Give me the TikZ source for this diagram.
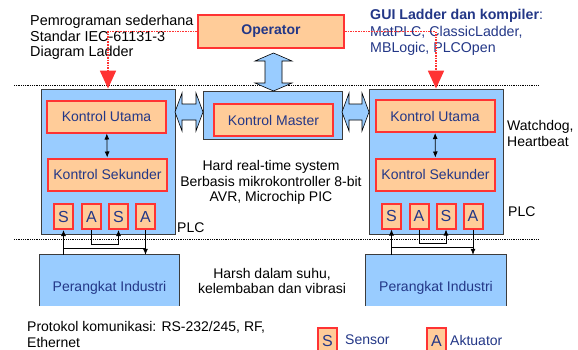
\documentclass[tikz,border=0pt]{standalone}
\usepackage{fontspec}
\setmainfont{Liberation Sans}
\usetikzlibrary{arrows.meta,calc}
\definecolor{skyfill}{RGB}{153,204,255}
\definecolor{peach}{RGB}{255,204,153}
\definecolor{redline}{RGB}{255,51,51}
\definecolor{navy}{RGB}{35,55,135}
\definecolor{edge}{RGB}{60,60,60}
\begin{document}
\begin{tikzpicture}[x=1pt,y=-1pt,
  every node/.style={font=\fontsize{14}{16}\selectfont},
  panel/.style={draw=edge, line width=0.8pt, fill=skyfill, inner sep=0pt},
  ctrl/.style={draw=redline, line width=2pt, fill=peach, text=navy, inner sep=0pt},
  unitbox/.style={ctrl, minimum width=119pt, minimum height=32pt},
  io/.style={ctrl, minimum width=19pt, minimum height=25pt, font=\fontsize{16}{18}\selectfont},
  note/.style={align=left, anchor=west, inner sep=0pt, font=\fontsize{14}{15.5}\selectfont},
  midnote/.style={align=center, inner sep=0pt, font=\fontsize{14}{15.5}\selectfont},
  sepline/.style={draw=black, line width=0.6pt, dash pattern=on 0.8pt off 1pt},
  blockarrow/.style={draw=black, line width=0.6pt, fill=skyfill},
  wire/.style={draw=black, line width=0.8pt},
  wtip/.style={-{Latex[length=6pt,width=5pt]}},
  reddot/.style={draw=redline, line width=1.8pt, dash pattern=on 1.6pt off 1pt,
    -{Triangle[width=16pt,length=18pt]}}
]
\fill[white] (0,0) rectangle (578,349);
\useasboundingbox (0,0) rectangle (578,349);

% dotted separators between the layers
\draw[sepline] (14,85) -- (538,85);
\draw[sepline] (14,239) -- (538,239);

% operator
\node[ctrl, minimum width=146pt, minimum height=33pt,
  font=\fontsize{14}{16}\selectfont\bfseries] (op) at (271,31.5) {Operator};

% the two PLC units
\node[panel, minimum width=134pt, minimum height=145pt] (plcL) at (108,161.5) {};
\node[panel, minimum width=134pt, minimum height=145pt] (plcR) at (436,161.5) {};

\node[unitbox] (kuL) at (106.5,116.5) {Kontrol Utama};
\node[unitbox] (ksL) at (107.5,174.5) {Kontrol Sekunder};
\node[unitbox] (kuR) at (435,116) {Kontrol Utama};
\node[unitbox] (ksR) at (435.5,174.5) {Kontrol Sekunder};

\node[io] (sL1) at (63.5,216.5) {S};
\node[io] (aL1) at (91.5,216.5) {A};
\node[io] (sL2) at (118.5,216.5) {S};
\node[io] (aL2) at (145.5,216.5) {A};
\node[io] (sR1) at (391.5,216) {S};
\node[io] (aR1) at (419,216) {A};
\node[io] (sR2) at (446,216) {S};
\node[io] (aR2) at (473,216) {A};

% master controller
\node[panel, minimum width=139pt, minimum height=48pt] (master) at (272.5,115) {};
\node[ctrl, minimum width=119pt, minimum height=32pt] (km) at (273.5,120) {Kontrol Master};

% block arrows
\filldraw[blockarrow] (273.5,53) -- (292,61) -- (282,61) -- (282,83) -- (292,83)
  -- (273.5,91) -- (255,83) -- (265,83) -- (265,61) -- (255,61) -- cycle;
\filldraw[blockarrow] (175,112) -- (182,93) -- (182,104) -- (196,104) -- (196,93)
  -- (203,112) -- (196,131) -- (196,120) -- (182,120) -- (182,131) -- cycle;
\filldraw[blockarrow] (342,112) -- (349,93) -- (349,104) -- (362,104) -- (362,93)
  -- (369,112) -- (362,131) -- (362,120) -- (349,120) -- (349,131) -- cycle;

% field devices
\node[fill=skyfill, minimum width=139pt, minimum height=51pt, inner sep=0pt] (piL) at (109.5,280.5) {};
\node[fill=skyfill, minimum width=140pt, minimum height=51pt, inner sep=0pt] (piR) at (436,280.5) {};
\draw[edge, line width=0.8pt] (piL.south west) -- (piL.north west) -- (piL.north east) -- (piL.south east);
\draw[edge, line width=0.8pt] (piR.south west) -- (piR.north west) -- (piR.north east) -- (piR.south east);
\node[text=navy, inner sep=0pt] (piLt) at (109.5,288) {Perangkat Industri};
\node[text=navy, inner sep=0pt] (piRt) at (436,288) {Perangkat Industri};

% links inside each PLC
\draw[wire, {Latex[length=6pt,width=5pt]}-{Latex[length=6pt,width=5pt]}] (kuL) -- (ksL);
\draw[wire, {Latex[length=6pt,width=5pt]}-{Latex[length=6pt,width=5pt]}] (kuR) -- (ksR);

% sensor / actuator wiring, left
\draw[wire, wtip] (sL1.south |- piL.north) -- (sL1.south);
\draw[wire, wtip] (aL2.south) -- (aL2.south |- piL.north);
\draw[wire] ($(sL1.south)+(0,18)$) -- ($(aL2.south)+(0,18)$);
\draw[wire, wtip] (aL1.south) -- ++(0,14) -| (sL2.south);
% sensor / actuator wiring, right
\draw[wire, wtip] (sR1.south |- piR.north) -- (sR1.south);
\draw[wire, wtip] (aR2.south) -- (aR2.south |- piR.north);
\draw[wire] ($(sR1.south)+(0,18)$) -- ($(aR2.south)+(0,18)$);
\draw[wire, wtip] (aR1.south) -- ++(0,14) -| (sR2.south);

% notes
\node[note, font=\fontsize{14.4}{15.5}\selectfont] (prog) at (30,37.5)
  {Pemrograman sederhana\\Standar IEC-61131-3\\Diagram Ladder};
\node[note, text=navy, font=\fontsize{14.2}{16.5}\selectfont] (gui) at (370,32.5)
  {\textbf{GUI Ladder dan kompiler}:\\MatPLC, ClassicLadder,\\MBLogic, PLCOpen};
\node[midnote] (rt) at (271,182.5) {Hard real-time system\\Berbasis mikrokontroller 8-bit\\AVR, Microchip PIC};
\node[note] (wd) at (507,133.5) {Watchdog,\\Heartbeat};
\node[note] (plcLt) at (177,228) {PLC};
\node[note] (plcRt) at (508,212) {PLC};
\node[midnote] (harsh) at (272,281) {Harsh dalam suhu,\\kelembaban dan vibrasi};
\node[note] (proto) at (27,334.5) {Protokol komunikasi: RS-232/245, RF,\\Ethernet};

% legend
\node[io, anchor=north] (legS) at (327.5,327) {S};
\node[note, text=navy] (legSt) at (345,340) {Sensor};
\node[io, anchor=north] (legA) at (436.5,327) {A};
\node[note, text=navy] (legAt) at (450,340) {Aktuator};

% programming paths from the operator
\draw[reddot] (op.west) -| (plcL.north);
\draw[reddot] (op.east) -| (plcR.north);
\end{tikzpicture}
\end{document}
